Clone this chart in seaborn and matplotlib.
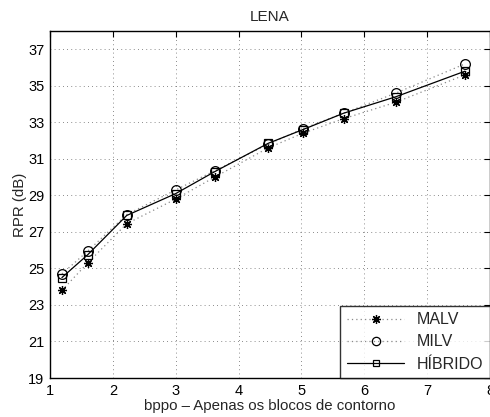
import matplotlib
matplotlib.use("Agg")
import matplotlib.pyplot as plt
import seaborn as sns
import pandas as pd
from matplotlib.lines import Line2D

bppo = [1.19, 1.60, 2.22, 3.00, 3.62, 4.47, 5.02, 5.67, 6.50, 7.60]
malv = [23.8, 25.3, 27.45, 28.8, 30.0, 31.6, 32.4, 33.2, 34.1, 35.6]
milv = [24.7, 25.95, 27.95, 29.3, 30.35, 31.8, 32.65, 33.5, 34.6, 36.2]
hibrido = [24.5, 25.75, 27.9, 29.1, 30.3, 31.85, 32.6, 33.5, 34.4, 35.8]

series_names = ["MALV", "MILV", "HÍBRIDO"]
xticks = [1, 2, 3, 4, 5, 6, 7, 8]
yticks = [19, 21, 23, 25, 27, 29, 31, 33, 35, 37]

df = pd.DataFrame({
    "bppo": bppo * 3,
    "rpr": malv + milv + hibrido,
    "serie": [series_names[0]] * len(bppo) + [series_names[1]] * len(bppo) + [series_names[2]] * len(bppo),
})

sns.set_style("white")
plt.rcParams["font.family"] = ["Liberation Sans", "DejaVu Sans"]

fig = plt.figure(figsize=(4.9, 4.17), dpi=100)
ax = fig.add_axes([0.102, 0.0935, 0.898, 0.832])

dotted = (0, (1, 2.5))
styles = {
    "MALV": dict(marker=(8, 2, 0), ls=dotted, lc="#8a8a8a", ms=6.5),
    "MILV": dict(marker="o", ls=dotted, lc="#8a8a8a", ms=7),
    "HÍBRIDO": dict(marker="s", ls="-", lc="black", ms=6),
}

for name in series_names:
    st = styles[name]
    sub = df[df["serie"] == name]
    sns.lineplot(data=sub, x="bppo", y="rpr", ax=ax, color=st["lc"],
                 linestyle=st["ls"], linewidth=0.9, marker=st["marker"],
                 markersize=st["ms"], markerfacecolor="none",
                 markeredgecolor="black", markeredgewidth=0.9,
                 label=name, legend=False, zorder=3)

ax.set_xlim(1, 8)
ax.set_ylim(19, 38)
ax.set_xticks(xticks)
ax.set_yticks(yticks)
ax.grid(True, color="#666666", linestyle=(0, (1, 4)), linewidth=0.6)
ax.tick_params(direction="in", top=True, right=True, length=4, width=0.8,
               labelsize=10.5, colors="black", pad=4)
for s in ax.spines.values():
    s.set_color("black")
    s.set_linewidth(1.0)

ax.set_title("LENA", fontsize=11, pad=7)
ax.set_xlabel("bppo – Apenas os blocos de contorno", fontsize=10.8, labelpad=1)
ax.set_ylabel("RPR (dB)", fontsize=10.8, labelpad=1)

leg_handles = [
    Line2D([], [], color="#8a8a8a", ls=dotted, lw=0.9, marker=(8, 2, 0),
           ms=6.5, mfc="none", mec="black", mew=0.9),
    Line2D([], [], color="#8a8a8a", ls=dotted, lw=0.9, marker="o",
           ms=6, mfc="none", mec="black", mew=0.9),
    Line2D([], [], color="black", ls="-", lw=0.9, marker="s",
           ms=5, mfc="none", mec="black", mew=0.9),
]
leg = ax.legend(leg_handles, series_names, loc="lower right", fontsize=11.5,
                frameon=True, fancybox=False, edgecolor="black",
                borderaxespad=0.0, handlelength=3.6, handletextpad=0.8,
                borderpad=0.4, labelspacing=0.45)
leg.get_frame().set_linewidth(1.0)

fig.savefig("out.png", dpi=100)
